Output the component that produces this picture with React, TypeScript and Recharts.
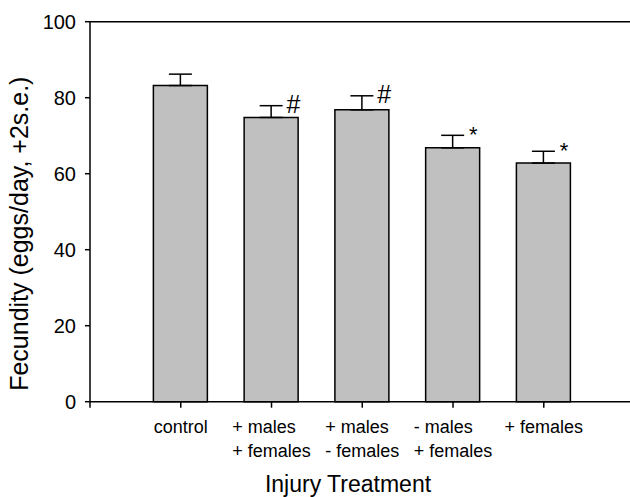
import React from 'react';
import { ComposedChart, Bar, XAxis, YAxis, ErrorBar, Scatter, ReferenceLine, Label } from 'recharts';

const categories: string[][] = [
  ['control'],
  ['+ males', '+ females'],
  ['+ males', '- females'],
  ['- males', '+ females'],
  ['+ females'],
];
const positions = [1, 2, 3, 4, 5];
const fecundity = [83.2, 74.8, 76.8, 66.8, 62.8];
const twoSE = [3.0, 3.1, 3.7, 3.3, 3.1];
const markers = ['', '#', '#', '*', '*'];
const yTicks = [0, 20, 40, 60, 80, 100];
const xTicks = [0, 1, 2, 3, 4, 5];

const data = positions.map((p, i) => ({
  pos: p,
  value: fecundity[i],
  err: [0, twoSE[i]],
  top: fecundity[i] + twoSE[i],
  marker: markers[i],
  lines: categories[i],
}));

const FONT = '"Liberation Sans", Arial, Helvetica, sans-serif';

let ctx: CanvasRenderingContext2D | null = null;
function measure(t: string, size: number) {
  if (!ctx) ctx = document.createElement('canvas').getContext('2d');
  if (!ctx) return t.length * size * 0.5;
  ctx.font = `${size}px ${FONT}`;
  return ctx.measureText(t).width;
}

const XTick = (props: any) => {
  const { x, y, payload } = props;
  const idx = positions.indexOf(payload.value);
  if (idx < 0) return null;
  const lines = categories[idx];
  const size = 18;
  const w = Math.max(...lines.map((l) => measure(l, size)));
  const left = x - w / 2;
  return (
    <g>
      {lines.map((l, i) => (
        <text key={i} x={left} y={y + 23 + i * 24.5} textAnchor="start" fontSize={size} fontFamily={FONT} fill="#000">
          {l}
        </text>
      ))}
    </g>
  );
};

const MarkerShape = (props: any) => {
  const { cx, cy, payload } = props;
  if (!payload || !payload.marker) return null;
  const isHash = payload.marker === '#';
  return (
    <text x={cx + (isHash ? 15 : 16)} y={cy + 7} fontSize={isHash ? 25 : 22} fontFamily={FONT} fill="#000">
      {payload.marker}
    </text>
  );
};

export default function App() {
  return (
    <div style={{ position: 'absolute', left: 0, top: 0, width: 630, height: 497, background: '#fff' }}>
      <ComposedChart
        width={630}
        height={497}
        data={data}
        margin={{ top: 21.7, right: 0, left: 0, bottom: 35.3 }}
      >
        <XAxis
          dataKey="pos"
          type="number"
          domain={[0, 5.95]}
          ticks={xTicks}
          allowDataOverflow
          height={60}
          tickSize={6}
          tick={<XTick />}
          axisLine={{ stroke: '#000', strokeWidth: 1.5 }}
          tickLine={{ stroke: '#000', strokeWidth: 1.5 }}
        >
          <Label
            content={(p: any) => {
              const vb = p.viewBox;
              return (
                <text x={vb.x + vb.width / 2 - 12} y={vb.y + 90} textAnchor="middle" fontSize={23} fontFamily={FONT} fill="#000">
                  Injury Treatment
                </text>
              );
            }}
          />
        </XAxis>
        <YAxis
          type="number"
          domain={[0, 100]}
          ticks={yTicks}
          width={90}
          tickSize={5}
          tickMargin={9}
          tick={{ fontSize: 20, fontFamily: FONT, fill: '#000' }}
          axisLine={{ stroke: '#000', strokeWidth: 1.5 }}
          tickLine={{ stroke: '#000', strokeWidth: 1.5 }}
        >
          <Label
            content={(p: any) => {
              const vb = p.viewBox;
              const cx = vb.x + 28;
              const cy = vb.y + vb.height / 2 + 22;
              return (
                <text x={cx} y={cy} transform={`rotate(-90 ${cx} ${cy})`} textAnchor="middle" fontSize={25} fontFamily={FONT} fill="#000">
                  Fecundity (eggs/day, +2s.e.)
                </text>
              );
            }}
          />
        </YAxis>
        <ReferenceLine y={100} stroke="#000" strokeWidth={1.5} />
        <Bar dataKey="value" fill="#c0c0c0" stroke="#000" strokeWidth={1.5} barSize={54} isAnimationActive={false}>
          <ErrorBar dataKey="err" direction="y" width={11.5} stroke="#000" strokeWidth={1.5} />
        </Bar>
        <Scatter dataKey="top" shape={<MarkerShape />} isAnimationActive={false} />
      </ComposedChart>
    </div>
  );
}
